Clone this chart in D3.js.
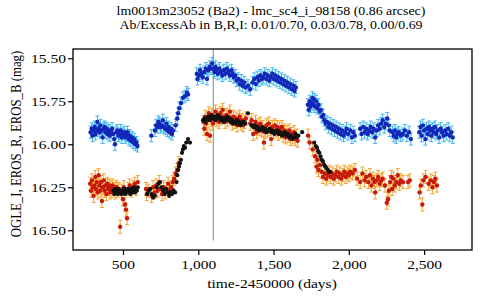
<!DOCTYPE html>
<html>
<head>
<meta charset="utf-8">
<script src="https://cdn.jsdelivr.net/npm/d3@7"></script>
<style>
  body { margin: 0; background: #fff; }
</style>
</head>
<body>
<div id="chart"></div>
<script>
// light curve: [day, mag]
const erosB = [
  [285,15.93],[292,15.91],[298,15.95],[305,15.92],[312,15.90],[318,15.94],[325,15.92],[330,15.87],[338,15.91],[345,15.93],
  [350,15.89],[358,15.92],[365,15.96],[372,15.91],[378,15.90],[385,15.93],[392,15.91],[398,15.94],[405,15.92],[412,15.95],
  [420,15.93],[428,15.91],[435,15.94],[442,15.97],[447,16.00],[455,15.93],[462,15.92],[470,15.95],[478,15.94],[485,15.92],
  [492,15.96],[500,15.94],[508,15.93],[515,15.96],[522,15.95],[530,15.93],[538,15.97],[545,15.95],[552,15.98],[560,15.96],
  [568,15.99],[575,15.97],[582,16.00],[590,15.99],[596,16.01],
  [688,15.95],[712,15.92],[720,15.89],[728,15.90],[735,15.87],[742,15.88],[750,15.90],[758,15.89],[765,15.86],[772,15.90],
  [780,15.91],[788,15.88],[795,15.92],[802,15.90],[810,15.93],[818,15.91],[825,15.94],[832,15.92],
  [850,15.89],[860,15.85],[866,15.82],[874,15.79],[885,15.76],[898,15.73],[912,15.72],[925,15.70],[932,15.71],
  [990,15.59],[995,15.62],[1005,15.60],[1012,15.57],[1020,15.59],[1030,15.61],[1040,15.58],[1050,15.56],[1058,15.62],[1065,15.57],
  [1075,15.55],[1085,15.56],[1092,15.53],[1100,15.56],[1108,15.58],[1115,15.55],[1122,15.57],[1130,15.59],[1140,15.56],[1150,15.58],
  [1160,15.60],[1170,15.57],[1180,15.59],[1190,15.56],[1200,15.58],[1210,15.60],[1220,15.57],[1228,15.59],[1236,15.61],[1245,15.60],
  [1255,15.63],[1265,15.62],[1275,15.65],[1285,15.63],[1295,15.66],[1305,15.64],[1315,15.67],[1330,15.66],[1345,15.68],
  [1360,15.64],[1372,15.62],[1382,15.65],[1392,15.61],[1402,15.63],[1412,15.60],[1422,15.62],[1432,15.61],[1442,15.59],[1452,15.62],
  [1462,15.60],[1472,15.63],[1482,15.61],[1492,15.59],[1502,15.62],[1512,15.60],[1522,15.63],[1532,15.61],[1542,15.64],[1552,15.62],
  [1562,15.65],[1572,15.63],[1582,15.66],[1592,15.64],[1602,15.67],[1612,15.65],[1622,15.68],[1632,15.66],[1640,15.69],[1648,15.67],
  [1728,15.77],[1734,15.80],[1740,15.75],[1746,15.78],[1752,15.76],[1758,15.73],[1764,15.77],[1770,15.74],[1776,15.78],[1782,15.75],
  [1790,15.79],[1798,15.77],[1806,15.81],[1814,15.80],[1822,15.84],[1830,15.83],[1838,15.86],[1846,15.88],[1855,15.87],[1865,15.90],
  [1875,15.88],[1885,15.91],[1895,15.89],[1905,15.92],[1915,15.90],[1925,15.93],[1935,15.91],[1945,15.94],[1955,15.92],[1965,15.95],
  [1975,15.93],[1985,15.91],[1995,15.94],[2010,15.92],[2020,15.96],[2030,15.93],[2040,15.95],
  [2075,15.91],[2085,15.94],[2095,15.90],[2105,15.93],[2115,15.91],[2125,15.94],[2135,15.92],[2145,15.90],[2155,15.93],[2165,15.91],
  [2175,15.96],[2185,15.92],[2195,15.89],[2205,15.91],[2215,15.88],[2225,15.86],[2235,15.90],[2245,15.88],[2255,15.85],[2265,15.89],
  [2272,15.92],[2290,15.93],[2298,15.95],[2306,15.92],[2314,15.96],[2322,15.94],[2332,15.93],[2345,15.95],[2358,15.94],[2372,15.92],
  [2385,15.95],[2400,15.93],[2412,15.97],
  [2468,15.93],[2476,15.90],[2484,15.95],[2492,15.89],[2500,15.92],[2508,15.97],[2516,15.91],[2524,15.94],[2532,15.90],[2540,15.92],
  [2548,15.95],[2556,15.91],[2564,15.93],[2572,15.90],[2580,15.94],[2590,15.92],[2600,15.96],[2610,15.91],[2620,15.93],[2630,15.95],
  [2640,15.92],[2650,15.94],[2660,15.91],[2670,15.95],[2680,15.93],[2690,15.96]
];

const erosR = [
  [282,16.23],[288,16.27],[294,16.21],[300,16.25],[305,16.30],[310,16.24],[316,16.19],[320,16.26],[326,16.22],[332,16.28],
  [338,16.18],[343,16.24],[348,16.27],[354,16.22],[360,16.33],[366,16.25],[372,16.21],[378,16.27],[384,16.24],[390,16.29],
  [396,16.23],[402,16.26],[408,16.24],[414,16.28],[420,16.25],[426,16.27],[432,16.24],[440,16.26],[448,16.28],[456,16.25],
  [464,16.27],[472,16.26],[481,16.48],[490,16.27],[500,16.32],[506,16.25],[513,16.35],[520,16.38],[527,16.43],[534,16.26],
  [545,16.24],[556,16.27],[566,16.25],[578,16.23],[588,16.26],[598,16.22],
  [653,16.26],[658,16.29],[668,16.27],[690,16.30],[700,16.25],[710,16.28],[720,16.24],[730,16.27],[740,16.22],[750,16.26],
  [760,16.29],[770,16.25],[780,16.28],[790,16.26],[800,16.23],[810,16.27],[820,16.25],[830,16.22],[840,16.20],[850,16.17],
  [860,16.15],[870,16.11],
  [1035,15.87],[1040,15.91],[1046,15.84],[1052,15.88],[1058,15.94],[1064,15.85],[1070,15.82],[1078,15.95],[1084,15.86],[1090,15.83],
  [1098,15.88],[1106,15.84],[1114,15.81],[1122,15.86],[1130,15.83],[1138,15.87],[1146,15.82],[1154,15.85],[1162,15.80],[1170,15.84],
  [1178,15.87],[1186,15.83],[1194,15.86],[1202,15.84],[1210,15.81],[1218,15.85],[1226,15.88],[1234,15.84],[1242,15.87],[1250,15.85],
  [1258,15.89],[1266,15.86],[1274,15.84],[1282,15.88],[1290,15.86],[1298,15.89],[1306,15.87],[1316,15.85],
  [1345,15.88],[1355,15.86],[1365,15.94],[1372,15.90],[1380,15.87],[1388,15.93],[1396,15.89],[1404,15.91],[1412,15.88],[1420,15.92],
  [1428,15.90],[1436,15.99],[1444,15.93],[1452,15.89],[1460,15.92],[1468,15.88],[1476,15.91],[1484,15.97],[1492,15.90],[1500,15.93],
  [1508,15.89],[1516,15.92],[1524,15.90],[1532,15.94],[1540,15.91],[1548,15.93],[1556,15.90],[1564,15.95],[1572,15.92],[1580,15.96],
  [1588,15.93],[1596,15.95],[1604,15.92],[1612,15.97],[1620,15.94],[1628,15.96],[1636,15.93],[1644,15.97],[1652,15.95],[1660,15.98],
  [1729,15.95],[1740,15.99],[1760,16.03],[1776,16.07],[1785,16.13],[1792,16.09],[1798,16.15],[1808,16.12],[1818,16.16],[1828,16.19],
  [1840,16.17],[1850,16.20],[1860,16.18],[1870,16.16],[1880,16.19],[1890,16.17],[1900,16.20],[1910,16.18],[1920,16.16],[1930,16.19],
  [1940,16.17],[1950,16.20],[1960,16.18],[1970,16.16],[1980,16.19],[1990,16.17],[2000,16.18],[2010,16.16],[2025,16.17],[2040,16.15],
  [2055,16.20],[2075,16.22],[2090,16.17],[2105,16.21],[2115,16.19],[2130,16.22],[2140,16.18],[2150,16.24],[2160,16.20],[2170,16.22],
  [2175,16.28],[2185,16.21],[2195,16.19],[2205,16.23],[2215,16.21],[2225,16.20],[2240,16.24],[2252,16.34],[2260,16.32],[2266,16.27],
  [2274,16.22],[2282,16.19],[2288,16.26],[2296,16.20],[2305,16.24],[2315,16.22],[2325,16.18],[2335,16.23],[2345,16.21],[2360,16.22],
  [2393,16.22],[2405,16.21],[2470,16.28],[2478,16.24],[2488,16.35],[2495,16.21],[2510,16.19],[2530,16.23],[2545,16.21],[2555,16.25],
  [2565,16.22],[2575,16.20],[2585,16.24]
];

const ogleI = [
  [436,16.27],[442,16.29],[448,16.26],[454,16.28],[460,16.27],[466,16.29],[472,16.26],[478,16.28],[484,16.27],[490,16.29],
  [496,16.27],[502,16.28],[508,16.26],[514,16.29],[520,16.27],[526,16.28],[532,16.26],[538,16.28],[544,16.27],[550,16.29],
  [556,16.26],[562,16.28],[568,16.27],[574,16.25],[580,16.28],[586,16.26],[592,16.27],[598,16.25],
  [662,16.29],[672,16.27],[680,16.26],[690,16.29],[700,16.31],[712,16.30],[724,16.25],[735,16.23],[746,16.22],[756,16.25],
  [766,16.27],[776,16.29],[786,16.26],[796,16.28],[806,16.30],[816,16.28],[826,16.29],[836,16.27],[846,16.28],
  [856,16.22],[860,16.18],[866,16.15],[872,16.13],[878,16.11],[885,16.09],[892,16.05],[898,16.03],[904,16.01],[912,16.02],
  [920,15.99],[932,15.97],[945,15.99],
  [1032,15.86],[1040,15.85],[1048,15.87],[1056,15.85],[1064,15.84],[1072,15.86],[1080,15.84],[1088,15.83],[1096,15.85],[1104,15.84],
  [1112,15.86],[1120,15.84],[1128,15.83],[1136,15.85],[1144,15.84],[1152,15.86],[1160,15.85],[1168,15.87],[1176,15.85],[1184,15.86],
  [1192,15.84],[1200,15.86],[1208,15.85],[1216,15.87],[1224,15.86],[1232,15.88],[1240,15.87],[1248,15.88],[1256,15.86],[1264,15.88],
  [1272,15.87],[1280,15.89],[1290,15.88],[1300,15.87],[1312,15.88],[1330,15.82],
  [1355,15.89],[1365,15.90],[1375,15.89],[1385,15.91],[1395,15.90],[1405,15.92],[1415,15.91],[1425,15.90],[1435,15.92],[1445,15.91],
  [1455,15.93],[1465,15.92],[1475,15.91],[1485,15.93],[1495,15.92],[1505,15.94],[1515,15.93],[1525,15.92],[1535,15.94],[1545,15.93],
  [1555,15.95],[1565,15.94],[1575,15.93],[1585,15.95],[1595,15.94],[1605,15.96],[1615,15.95],[1625,15.97],[1635,15.96],[1645,15.94],
  [1655,15.96],[1665,15.95],[1690,15.93],
  [1770,15.99],[1780,16.01],[1788,16.02],[1796,16.04],[1804,16.05],[1812,16.07],[1820,16.09],[1828,16.10],[1836,16.12],[1844,16.13],
  [1852,16.14],[1860,16.15],[1868,16.16],[1876,16.16]
];

// typical photometric errors (mag)
const errB = 0.035, errR = 0.038, errI = 0.01;

const xTicks = [500, 1000, 1500, 2000, 2500];
const yTicks = [15.5, 15.75, 16.0, 16.25, 16.5];
const markerDay = 1100;
const markerMag = [15.446, 16.56];

const titleLines = [
  "lm0013m23052 (Ba2) - lmc_sc4_i_98158 (0.86 arcsec)",
  "Ab/ExcessAb in B,R,I: 0.01/0.70, 0.03/0.78, 0.00/0.69"
];

const W = 480, H = 300;
const plot = {left: 73, right: 472, top: 49, bottom: 250};
const sx = 1.15; // the original picture is stretched sideways
const font = "'Liberation Serif', 'Times New Roman', serif";

const svg = d3.select("#chart").append("svg")
    .attr("width", W)
    .attr("height", H)
    .style("font-family", font);

const x = d3.scaleLinear().domain([168, 2818]).range([plot.left, plot.right]);
const y = d3.scaleLinear().domain([15.446, 16.615]).range([plot.top, plot.bottom]);

// grey marker line
svg.append("line")
    .attr("x1", x(markerDay)).attr("x2", x(markerDay))
    .attr("y1", y(markerMag[0])).attr("y2", y(markerMag[1]))
    .attr("stroke", "#a0a0a0")
    .attr("stroke-width", 1.3);

const drawSeries = (data, err, barColor, dotColor, r) => {
  const g = svg.append("g");
  if (err > 0.015) {
    g.append("g")
        .attr("stroke", barColor).attr("stroke-width", 1).attr("fill", "none")
      .selectAll("path")
      .data(data)
      .join("path")
        .attr("d", d => {
          const cx = x(d[0]), y0 = y(d[1] - err), y1 = y(d[1] + err);
          return `M${cx},${y0}V${y1}M${cx - 2},${y0}H${cx + 2}M${cx - 2},${y1}H${cx + 2}`;
        });
  }
  g.append("g").selectAll("circle")
    .data(data)
    .join("circle")
      .attr("cx", d => x(d[0]))
      .attr("cy", d => y(d[1]))
      .attr("r", r)
      .attr("fill", dotColor);
};

drawSeries(erosB, errB, "#3fb6f0", "#1226b8", 2.2);
drawSeries(erosR, errR, "#f6a22a", "#c41a0c", 2.2);
drawSeries(ogleI, errI, "#333", "#111111", 2.1);

// frame
svg.append("rect")
    .attr("x", plot.left).attr("y", plot.top)
    .attr("width", plot.right - plot.left).attr("height", plot.bottom - plot.top)
    .attr("fill", "none").attr("stroke", "#000").attr("stroke-width", 1.3);

// axes
const xAxis = svg.append("g")
    .attr("transform", `translate(0,${plot.bottom})`)
    .call(d3.axisBottom(x).tickValues(xTicks).tickFormat(d3.format(",")).tickSize(5).tickPadding(4));

const yAxis = svg.append("g")
    .attr("transform", `translate(${plot.left},0)`)
    .call(d3.axisLeft(y).tickValues(yTicks).tickFormat(d3.format(".2f")).tickSize(5).tickPadding(2));

[xAxis, yAxis].forEach(a => {
  a.attr("font-family", null);
  a.select(".domain").remove();
  a.selectAll("line").attr("stroke", "#000").attr("stroke-width", 1.2);
  a.selectAll("text")
    .style("font-family", font)
    .style("font-size", "13.5px")
    .attr("fill", "#000");
});
xAxis.selectAll("text").attr("transform", `scale(${sx},1)`);
yAxis.selectAll("text")
    .attr("x", -7 / sx)
    .attr("transform", `scale(${sx},1)`);

// titles (slightly smaller than axis text)
const tsx = 1.07;
titleLines.forEach((t, i) => {
  svg.append("text")
      .attr("x", 271 / tsx)
      .attr("y", 15 + i * 14)
      .attr("transform", `scale(${tsx},1)`)
      .attr("text-anchor", "middle")
      .style("font-family", font)
      .style("font-size", "13px")
      .text(t);
});

svg.append("text")
    .attr("x", 272 / sx)
    .attr("y", 288)
    .attr("transform", `scale(${sx},1)`)
    .attr("text-anchor", "middle")
    .style("font-family", font)
    .style("font-size", "13.5px")
    .text("time-2450000 (days)");

// rotated label: the sideways stretch thickens it but does not lengthen it
svg.append("text")
    .attr("transform", `translate(21,144) scale(${sx},1) rotate(-90)`)
    .attr("text-anchor", "middle")
    .style("font-family", font)
    .style("font-size", "12.8px")
    .text("OGLE_I, EROS_R, EROS_B (mag)");
</script>
</body>
</html>
